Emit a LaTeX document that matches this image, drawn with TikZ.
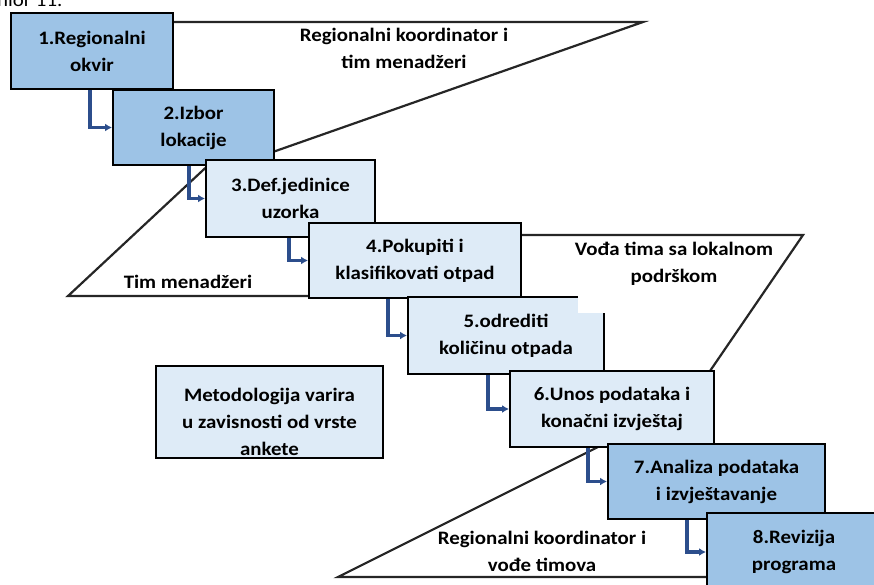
\documentclass[tikz,border=0pt]{standalone}
\usepackage{fontspec}
\setmainfont{Carlito}[FakeStretch=1.1]
\usetikzlibrary{arrows.meta}
\definecolor{plavaT}{RGB}{157,195,230}
\definecolor{plavaS}{RGB}{222,235,247}
\definecolor{strelica}{RGB}{44,78,140}
\tikzset{
	faza/.style={draw=black, line width=2pt, inner sep=0pt, anchor=north west, align=center, font=\bfseries\fontsize{19}{27}\selectfont},
	tamna/.style={faza, fill=plavaT},
	svijetla/.style={faza, fill=plavaS},
	tok/.style={draw=strelica, line width=3.4pt, -{Latex[length=7pt,width=8pt]}},
	granica/.style={draw=black!85, line width=2.2pt},
	oznaka/.style={align=center, font=\bfseries\fontsize{19}{27}\selectfont}
}
\begin{document}
\begin{tikzpicture}[x=1pt,y=-1pt]
	\useasboundingbox (0,0) rectangle (874,584);
	% ostatak teksta iznad slike
	\node[anchor=base west, inner sep=0pt, font=\fontsize{19}{23}\selectfont] (nastavak) at (-3,6) {nior 11.};
	
	% pozadinski oblici (odgovornosti)
	\draw[granica] (150,22) -- (643,22) -- (250,160);
	\draw[granica] (340,296) -- (68,296) -- (230,145);
	\draw[granica] (500,235) -- (803,235) -- (697,390);
	\draw[granica] (760,577) -- (338,577) -- (620,436);
	\node[oznaka] (regKoord) at (404,48) {Regionalni koordinator i\\tim menadžeri};
	\node[oznaka] (timMen) at (188,282) {Tim menadžeri};
	\node[oznaka] (regVode) at (542,551) {Regionalni koordinator i\\vođe timova};
	
	% koraci
	\node[tamna, minimum width=162, minimum height=76] (k1) at (10,12) {1.Regionalni\\okvir};
	\node[tamna, minimum width=161, minimum height=75] (k2) at (112,89) {2.Izbor\\lokacije};
	\node[svijetla, minimum width=169, minimum height=77] (k3) at (205,159) {3.Def.jedinice\\uzorka};
	\node[svijetla, minimum width=212, minimum height=75] (k4) at (308,222) {4.Pokupiti i\\klasifikovati otpad};
	\node[svijetla, minimum width=196, minimum height=77] (k5) at (407,296) {5.odrediti\\količinu otpada};
	\node[svijetla, minimum width=204, minimum height=76] (k6) at (509,370) {6.Unos podataka i\\konačni izvještaj};
	\node[tamna, minimum width=217, minimum height=75] (k7) at (607,443) {7.Analiza podataka\\i izvještavanje};
	\node[tamna, minimum width=174, minimum height=78] (k8) at (706,512) {8.Revizija\\programa};
	
	\draw[tok] ([xshift=80pt]k1.south west) |- (k2.west);
	\draw[tok] ([xshift=77pt]k2.south west) |- (k3.west);
	\draw[tok] ([xshift=84pt]k3.south west) |- (k4.west);
	\draw[tok] ([xshift=80pt]k4.south west) |- (k5.west);
	\draw[tok] ([xshift=81pt]k5.south west) |- (k6.west);
	\draw[tok] ([xshift=79pt]k6.south west) |- (k7.west);
	\draw[tok] ([xshift=80pt]k7.south west) |- (k8.west);
	
	\node[svijetla, minimum width=227, minimum height=92] (metod) at (155,365) {};
	\node[oznaka] (metodTekst) at ([yshift=-10pt]metod.center) {Metodologija varira\\u zavisnosti od vrste\\ankete};
	
	\fill[white] (578,240) rectangle (747,313);
	\node[oznaka] (vodja) at (674,264) {Vođa tima sa lokalnom\\podrškom};
\end{tikzpicture}
\end{document}
